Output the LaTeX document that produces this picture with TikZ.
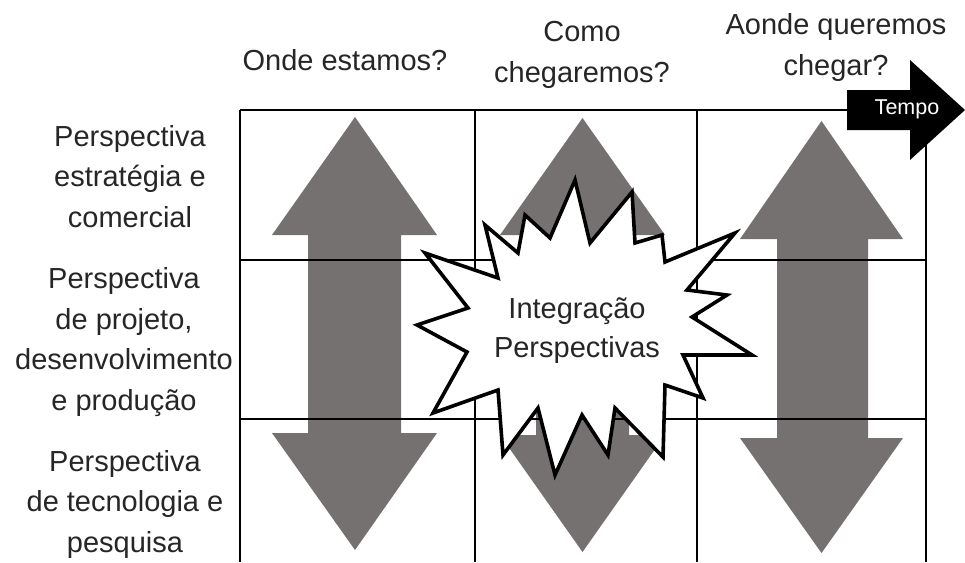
\documentclass[tikz,border=0pt]{standalone}
\usepackage{fontspec}
\setmainfont{Liberation Sans}
\definecolor{arrowgray}{RGB}{118,113,113}
\definecolor{txt}{RGB}{38,38,38}
\begin{document}
\begin{tikzpicture}[x=1pt,y=-1pt,
  lbl/.style={font=\fontsize{29}{40.5}\selectfont, text=txt, align=center, inner sep=0pt, anchor=base},
  bigarrow/.style={fill=arrowgray, draw=none},
  gridline/.style={draw=black, line width=1.8pt},
  burst/.style={draw=black, fill=white, line width=3.6pt, line join=miter},
  tempoarrow/.style={fill=black, draw=none}]
\useasboundingbox (0,0) rectangle (965,562);
\fill[white] (0,0) rectangle (965,562);

% big gray double arrows
\path[bigarrow] (355,117) -- (437,235) -- (401,235) -- (401,433) -- (437,433) -- (355,550)
  -- (272,433) -- (308,433) -- (308,235) -- (272,235) -- cycle;
\path[bigarrow] (582.5,118) -- (665,235) -- (629,235) -- (629,435) -- (665,435) -- (582.5,552)
  -- (500,435) -- (536,435) -- (536,235) -- (500,235) -- cycle;
\path[bigarrow] (821.5,121) -- (903,239) -- (868,239) -- (868,438) -- (903,438) -- (821.5,553)
  -- (740,438) -- (777,438) -- (777,239) -- (740,239) -- cycle;

% grid
\coordinate (g00) at (240,110);
\coordinate (gTop) at (848,110);
\draw[gridline] (g00) -- (gTop);
\draw[gridline] (240,260) -- (926,260);
\draw[gridline] (240,419) -- (926,419);
\draw[gridline] (240,110) -- (240,562);
\draw[gridline] (475,110) -- (475,562);
\draw[gridline] (697,110) -- (697,562);
\draw[gridline] (926,110) -- (926,562);

% Tempo arrow
\path[tempoarrow] (847,90) -- (910,90) -- (910,60) -- (965,110) -- (910,160) -- (910,130) -- (847,130) -- cycle;
\node[font=\fontsize{21.5}{24}\selectfont, text=white, inner sep=0pt, anchor=base] (tempo) at (907,114) {Tempo};

% starburst
\draw[burst] (575,180) -- (590,243) -- (632,192) -- (635,243) -- (662,235) -- (665,262)
  -- (735,233) -- (687,290) -- (727,295) -- (692,317) -- (752,355) -- (683,355)
  -- (703,398) -- (665,385) -- (663,457) -- (615,408) -- (608,455) -- (582,415)
  -- (555,475) -- (538,408) -- (503,455) -- (498,390) -- (433,413) -- (467,352)
  -- (417,325) -- (468,308) -- (425,253) -- (498,278) -- (485,225) -- (518,253)
  -- (525,215) -- (550,238) -- cycle;
\node[lbl, font=\fontsize{29}{39}\selectfont] (integ) at (577,357) {Integração\\Perspectivas};

% column headers (base anchor = baseline of last line)
\node[lbl] (q1) at (345,70) {Onde estamos?};
\node[lbl] (q2) at (582,82) {Como\\chegaremos?};
\node[lbl] (q3) at (836,75) {Aonde queremos\\chegar?};

% row labels
\node[lbl] (r1) at (130,227) {Perspectiva\\estratégia e\\comercial};
\node[lbl] (r2) at (124,410) {Perspectiva\\de projeto,\\desenvolvimento\\e produção};
\node[lbl] (r3) at (125,552) {Perspectiva\\de tecnologia e\\pesquisa};
\end{tikzpicture}
\end{document}
